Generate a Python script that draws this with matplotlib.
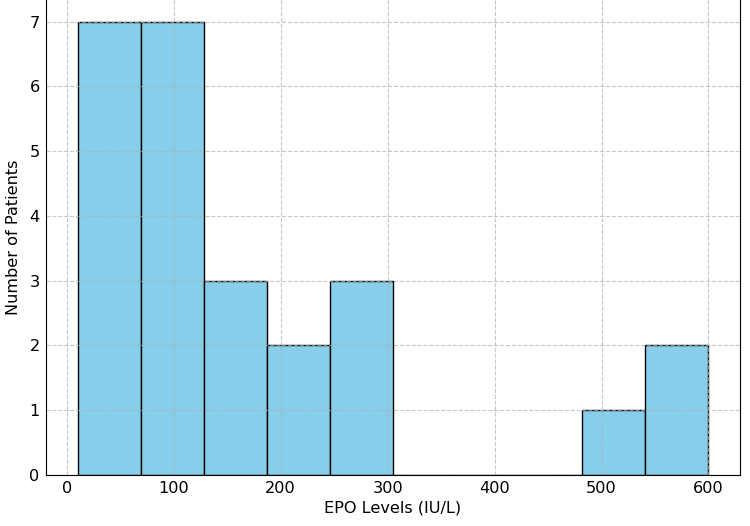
import numpy as np
import matplotlib
matplotlib.use('Agg')
from matplotlib import pyplot as plt

# границы интервалов и число пациентов
bin_edges = [10, 69, 128, 187, 246, 305, 364, 423, 482, 541, 600]
counts = [7, 7, 3, 2, 3, 0, 0, 0, 1, 2]

centers = [(a + b) / 2 for a, b in zip(bin_edges[:-1], bin_edges[1:])]

plt.rcParams['font.size'] = 11.6
fig = plt.figure(figsize=(7.5, 5.26), dpi=100)
ax = fig.add_axes([0.0613, 0.097, 0.9254, 0.905])

ax.hist(centers, bins=bin_edges, weights=counts, color='skyblue', edgecolor='black')
ax.set_xlabel('EPO Levels (IU/L)', labelpad=3)
ax.set_ylabel('Number of Patients', labelpad=6)
ax.tick_params(length=0, pad=4.5)
ax.grid(True, linestyle='--', alpha=0.7)

fig.savefig('out.png', dpi=100)
